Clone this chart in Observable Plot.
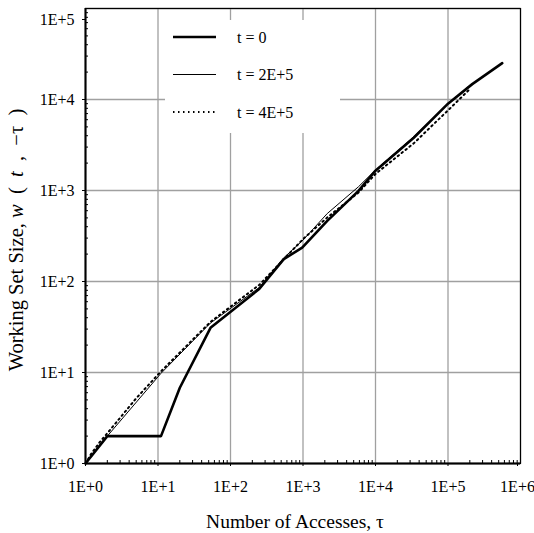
<!DOCTYPE html>
<html><head><meta charset="utf-8">
<script src="https://cdn.jsdelivr.net/npm/d3@7"></script>
<script src="https://cdn.jsdelivr.net/npm/@observablehq/plot@0.6"></script>
<style>
body{margin:0;background:#fff;}
#wrap{position:relative;width:534px;height:533px;font-family:"Liberation Serif",serif;}
#wrap svg, #wrap svg text{font-family:"Liberation Serif",serif !important;}
#legend{position:absolute;left:165px;top:20px;width:175px;height:113px;background:#fff;}
</style></head>
<body><div id="wrap"></div>
<script>
// series: t = 0 (thick)
const tau0 = [1, 2, 11, 20, 53, 246, 543, 975, 2160, 5830, 10000, 33700, 100000, 216000, 560000];
const w0   = [1, 2, 2, 6.8, 31, 82, 176, 236, 464, 990, 1650, 3800, 9000, 14760, 25100];
// series: t = 2E+5 (thin)
const tau1 = [1, 2, 11, 53, 250, 543, 1000, 2160, 5830, 10000, 33700, 100000, 200000];
const w1   = [1, 2, 9.8, 35, 86, 182, 285, 558, 1100, 1680, 3900, 9000, 14300];
// series: t = 4E+5 (dotted)
const tau2 = [1, 1.2, 1.6, 2, 5, 11, 53, 250, 1000, 2160, 5830, 10000, 33700, 100000, 200000];
const w2   = [1, 1.28, 1.75, 2.15, 5.2, 10.3, 36, 92, 292, 505, 950, 1520, 3300, 7600, 13000];

const seriesNames = ["t = 0", "t = 2E+5", "t = 4E+5"];
const xTicks = [1, 10, 100, 1000, 10000, 100000, 1000000];
const yTicks = [1, 10, 100, 1000, 10000, 100000];
const xTitle = "Number of Accesses, τ";

const minor = (maxExp) => {
  const out = [];
  for (let e = 0; e < maxExp; e++) for (let m = 2; m <= 9; m++) out.push(m * 10 ** e);
  return out;
};
const xMinor = minor(6), yMinor = minor(5);
const fmt = d => "1E+" + Math.round(Math.log10(d));

const toRows = (xs, ys) => xs.map((x, i) => ({x, y: ys[i]}));
const d0 = toRows(tau0, w0), d1 = toRows(tau1, w1), d2 = toRows(tau2, w2);

const chart = Plot.plot({
  width: 534, height: 533,
  marginLeft: 85, marginRight: 14, marginTop: 8, marginBottom: 70,
  style: {fontFamily: '"Liberation Serif", serif', fontSize: "16px", color: "#000", background: "#fff"},
  x: {type: "log", domain: [1, 1e6]},
  y: {type: "log", domain: [1, 1e5]},
  marks: [
    Plot.gridX(xTicks, {stroke: "#a0a0a0", strokeOpacity: 1, strokeWidth: 1.3}),
    Plot.gridY(yTicks, {stroke: "#a0a0a0", strokeOpacity: 1, strokeWidth: 1.3}),
    Plot.frame({stroke: "#000", strokeWidth: 1.2}),
    Plot.axisX(xMinor, {tickSize: -3, tickFormat: () => "", label: null, strokeWidth: 1}),
    Plot.axisY(yMinor, {tickSize: -3, tickFormat: () => "", label: null, strokeWidth: 1}),
    Plot.axisX(xTicks.slice(0, -1), {tickSize: 3, tickPadding: 14, tickFormat: fmt, label: null, fontSize: 16}),
    Plot.axisX(xTicks.slice(-1), {tickSize: 3, tickPadding: 14, tickFormat: fmt, label: null, fontSize: 16, dx: -3}),
    Plot.axisY(yTicks.slice(0, -1), {tickSize: 3, tickPadding: 8, tickFormat: fmt, label: null, fontSize: 16}),
    Plot.axisY(yTicks.slice(-1), {tickSize: 3, tickPadding: 8, tickFormat: fmt, label: null, fontSize: 16, dy: 11}),
    Plot.ruleY([1], {stroke: "#000", strokeWidth: 2}),
    Plot.ruleX([1], {stroke: "#000", strokeWidth: 2}),
    Plot.line(d2, {x: "x", y: "y", stroke: "#000", strokeWidth: 2, strokeDasharray: "1.5,3.5"}),
    Plot.line(d1, {x: "x", y: "y", stroke: "#000", strokeWidth: 1}),
    Plot.line(d0, {x: "x", y: "y", stroke: "#000", strokeWidth: 2.6})
  ]
});

const svg = d3.select(chart);
// x title
svg.append("text").attr("x", 295).attr("y", 528).attr("text-anchor", "middle")
  .attr("font-size", 19.5).attr("fill", "#000").text(xTitle);
// y title
const yt = svg.append("text").attr("transform", "translate(23,240) rotate(-90)")
  .attr("text-anchor", "middle").attr("font-size", 20.5).attr("fill", "#000")
  .attr("xml:space", "preserve").style("white-space", "pre");
yt.append("tspan").text("Working Set Size, ");
yt.append("tspan").attr("font-style", "italic").text("w");
yt.append("tspan").text("  (  ");
yt.append("tspan").attr("font-style", "italic").text("t");
yt.append("tspan").text("  ,  −τ  )");

const wrap = document.getElementById("wrap");
wrap.appendChild(chart);

// legend
const leg = document.createElement("div");
leg.id = "legend";
wrap.appendChild(leg);
const ls = d3.select(leg).append("svg").attr("width", 175).attr("height", 113);
const styles = [
  {w: 2.6, dash: null},
  {w: 1, dash: null},
  {w: 2, dash: "1.5,3.5"}
];
seriesNames.forEach((name, i) => {
  const yy = 17 + i * 37.5;
  const l = ls.append("line").attr("x1", 8).attr("x2", 51).attr("y1", yy).attr("y2", yy)
    .attr("stroke", "#000").attr("stroke-width", styles[i].w);
  if (styles[i].dash) l.attr("stroke-dasharray", styles[i].dash);
  ls.append("text").attr("x", 72).attr("y", yy).attr("dy", "0.35em").attr("font-size", 16)
    .attr("fill", "#000").text(name);
});
</script></body></html>
